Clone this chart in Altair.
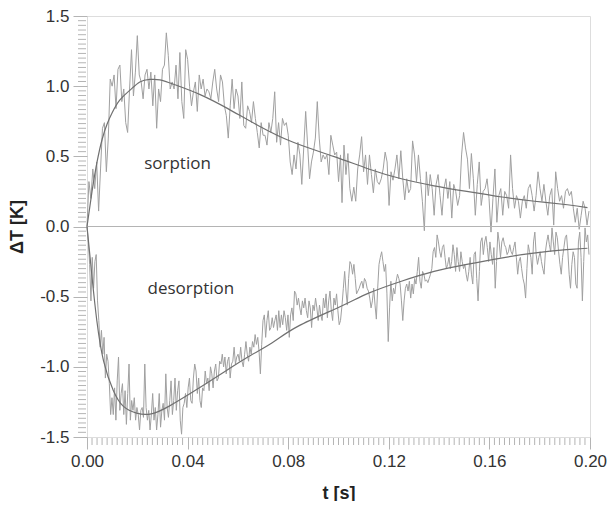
import altair as alt
import numpy as np
import pandas as pd

# ---- data ----
# noisy sorption trace, part 1 (t 0 .. 0.1008 s) and part 2 (t 0.1014 .. 0.1996 s)
sorp_a = [0.00, 0.32, 0.20, 0.41, 0.27, 0.46, 0.11, 0.41, 0.70, 0.74, 0.39, 0.63, 1.05, 1.00, 1.08, 0.84,
          1.12, 1.15, 0.89, 0.98, 0.74, 0.67, 0.98, 1.26, 0.93, 1.10, 1.36, 1.08, 1.03, 0.91, 1.08, 1.12,
          0.98, 1.10, 0.86, 1.08, 0.70, 0.98, 0.89, 1.12, 1.15, 1.38, 1.22, 0.98, 1.03, 0.98, 1.15, 0.91,
          1.24, 0.89, 0.77, 1.26, 1.19, 1.00, 0.86, 0.96, 1.03, 0.82, 1.08, 0.98, 1.05, 0.93, 0.98, 0.96,
          0.91, 1.03, 1.12, 0.98, 0.89, 1.08, 1.03, 0.86, 0.79, 0.63, 0.86, 1.05, 0.84, 0.98, 0.93, 0.77,
          1.03, 0.72, 0.70, 0.86, 0.82, 0.74, 0.89, 0.77, 0.67, 0.56, 0.74, 0.65, 0.65, 0.58, 0.74, 0.67,
          0.77, 0.96, 0.60, 0.74, 0.58, 0.77, 0.72, 0.74, 0.65, 0.46, 0.37, 0.51, 0.41, 0.60, 0.51, 0.30,
          0.56, 0.82, 0.58, 0.34, 0.46, 0.53, 0.63, 0.89, 0.63, 0.46, 0.51, 0.48, 0.51, 0.37, 0.65, 0.58,
          0.51, 0.53, 0.32, 0.51]
sorp_b = [0.17, 0.58, 0.37, 0.52, 0.27, 0.18, 0.28, 0.18, 0.41, 0.51, 0.64, 0.39, 0.51, 0.30, 0.51, 0.37,
          0.24, 0.41, 0.32, 0.30, 0.34, 0.41, 0.53, 0.46, 0.15, 0.39, 0.33, 0.41, 0.51, 0.34, 0.54, 0.34,
          0.19, 0.34, 0.24, 0.27, 0.61, 0.51, 0.32, 0.51, 0.34, 0.18, -0.03, 0.39, 0.22, 0.37, 0.27, 0.08,
          0.30, 0.37, 0.22, 0.08, 0.27, 0.34, 0.20, 0.32, 0.06, 0.30, 0.25, 0.15, 0.22, 0.51, 0.67, 0.56,
          0.48, 0.27, 0.52, 0.34, 0.08, 0.30, 0.46, 0.15, 0.25, 0.27, 0.34, 0.20, -0.04, 0.20, 0.41, 0.03,
          0.22, 0.27, 0.08, 0.25, 0.22, 0.13, 0.51, 0.27, 0.13, 0.22, 0.18, 0.06, 0.18, 0.22, 0.13, 0.27,
          0.30, 0.22, 0.11, 0.22, 0.39, 0.27, 0.18, 0.30, 0.18, 0.08, 0.22, 0.27, 0.01, 0.39, 0.27, 0.18,
          0.22, 0.13, 0.25, 0.27, 0.22, 0.25, 0.13, 0.03, 0.13, -0.02, 0.08, 0.18, 0.13, 0.01, 0.11]

# noisy desorption trace, part 1 (t 0 .. 0.1008 s) and part 2 (t 0.1014 .. 0.1996 s)
desorp_a = [0.00, -0.11, -0.27, -0.53, -0.22, -0.44, -0.25, -0.20, -0.53, -0.67, -0.86, -0.74, -0.91, -0.79,
            -1.08, -0.91, -0.96, -1.12, -1.34, -1.22, -1.34, -1.15, -1.38, -1.10, -0.93, -1.31, -1.19, -1.12,
            -1.34, -1.17, -1.41, -1.19, -0.98, -1.38, -1.24, -1.31, -1.22, -1.38, -1.29, -1.34, -1.45, -1.31,
            -1.29, -1.36, -0.98, -1.29, -1.38, -1.31, -1.45, -1.34, -1.19, -1.38, -1.29, -1.45, -1.34, -1.19,
            -1.43, -1.31, -1.26, -1.38, -1.05, -1.29, -1.36, -1.24, -1.10, -1.34, -1.24, -1.08, -1.31, -1.17,
            -1.10, -1.38, -1.48, -1.29, -1.26, -1.19, -1.29, -1.15, -1.08, -1.24, -1.26, -1.08, -0.98, -1.03,
            -1.19, -1.08, -1.24, -1.29, -1.15, -1.17, -1.03, -1.12, -1.08, -1.17, -1.00, -1.05, -1.15, -1.03,
            -0.98, -1.10, -1.08, -0.96, -0.98, -0.91, -1.00, -0.93, -1.05, -0.96, -0.93, -1.08, -0.98, -0.96,
            -0.86, -0.98, -0.93, -0.91, -0.96, -0.86, -0.96, -1.00, -0.91, -0.82, -0.91, -0.96, -0.86, -0.91,
            -0.82, -0.86, -0.77, -0.84, -0.79, -0.89, -1.05, -0.84, -0.67, -0.63, -0.79, -0.67, -0.60, -0.74,
            -0.72, -0.65, -0.72, -0.67, -0.63, -0.74, -0.60, -0.72, -0.63, -0.70, -0.60, -0.65, -0.74, -0.63,
            -0.79, -0.63, -0.58, -0.67, -0.46, -0.48, -0.56, -0.51, -0.58, -0.63, -0.53, -0.58, -0.51, -0.60,
            -0.65, -0.53, -0.58, -0.72, -0.56, -0.60, -0.51, -0.58, -0.67, -0.56, -0.63, -0.67, -0.51, -0.58,
            -0.48, -0.65, -0.53, -0.46, -0.60, -0.67, -0.51, -0.56, -0.48, -0.60, -0.70, -0.67]
desorp_b = [-0.56, -0.44, -0.32, -0.46, -0.56, -0.37, -0.25, -0.27, -0.34, -0.27, -0.37, -0.48, -0.46, -0.44,
            -0.41, -0.39, -0.44, -0.37, -0.39, -0.44, -0.46, -0.51, -0.58, -0.53, -0.44, -0.56, -0.66, -0.44,
            -0.27, -0.22, -0.18, -0.25, -0.32, -0.27, -0.48, -0.82, -0.58, -0.39, -0.53, -0.44, -0.48, -0.39,
            -0.34, -0.37, -0.41, -0.53, -0.67, -0.53, -0.44, -0.41, -0.46, -0.39, -0.51, -0.41, -0.48, -0.37,
            -0.41, -0.32, -0.22, -0.39, -0.44, -0.32, -0.34, -0.39, -0.38, -0.40, -0.37, -0.34, -0.30, -0.18,
            -0.15, -0.22, -0.06, -0.11, -0.18, -0.22, -0.15, -0.13, -0.22, -0.30, -0.27, -0.22, -0.30, -0.25,
            -0.13, -0.20, -0.32, -0.15, -0.25, -0.32, -0.18, -0.25, -0.30, -0.27, -0.34, -0.39, -0.32, -0.22,
            -0.34, -0.41, -0.20, -0.18, -0.37, -0.53, -0.32, -0.11, -0.08, -0.20, -0.11, -0.07, -0.15, -0.25,
            -0.11, -0.20, -0.27, -0.15, -0.44, -0.25, -0.04, -0.11, -0.22, -0.11, -0.08, -0.13, -0.15, -0.20,
            -0.18, -0.13, -0.18, -0.20, -0.15, -0.11, -0.22, -0.34, -0.25, -0.22, -0.30, -0.37, -0.41, -0.51,
            -0.30, -0.13, -0.18, -0.22, -0.34, -0.11, -0.04, -0.20, -0.27, -0.22, -0.18, -0.25, -0.30, -0.34,
            -0.18, -0.11, -0.06, -0.13, -0.18, -0.01, -0.11, -0.20, -0.04, -0.08, -0.18, -0.27, -0.34, -0.22,
            -0.15, -0.08, -0.06, -0.18, -0.34, -0.44, -0.27, -0.18, -0.22, -0.41, -0.44, -0.11, -0.04, -0.22,
            -0.53, -0.25, -0.01, -0.11, -0.06, -0.20]

# fitted curves
fit_sorp_t = [0.0, 0.002, 0.004, 0.006, 0.008, 0.010, 0.013, 0.017, 0.021, 0.025, 0.029, 0.035, 0.045,
              0.056, 0.068, 0.082, 0.098, 0.112, 0.125, 0.138, 0.151, 0.165, 0.178, 0.191, 0.199]
fit_sorp_v = [0.0, 0.25, 0.46, 0.62, 0.73, 0.81, 0.90, 0.97, 1.03, 1.048, 1.045, 1.01, 0.94,
              0.84, 0.72, 0.60, 0.50, 0.41, 0.34, 0.29, 0.25, 0.21, 0.18, 0.155, 0.135]
fit_desorp_t = [0.0, 0.002, 0.0039, 0.0066, 0.0105, 0.0144, 0.0197, 0.0256, 0.0327, 0.042, 0.0525, 0.063,
                0.0735, 0.084, 0.1008, 0.112, 0.125, 0.138, 0.151, 0.1646, 0.1776, 0.1906, 0.199]
fit_desorp_v = [0.0, -0.36, -0.67, -0.96, -1.17, -1.28, -1.33, -1.335, -1.28, -1.18, -1.06, -0.94,
                -0.83, -0.71, -0.57, -0.475, -0.39, -0.32, -0.27, -0.225, -0.19, -0.165, -0.155]

x_ticks = [0.0, 0.04, 0.08, 0.12, 0.16, 0.20]
y_ticks = [-1.5, -1.0, -0.5, 0.0, 0.5, 1.0, 1.5]

labels = ["sorption", "desorption"]
label_t = [0.036, 0.0413]
label_v = [0.447, -0.447]

# ---- build tables ----
def trace(a, b):
    t = list(np.linspace(0.0, 0.1008, len(a))) + list(np.linspace(0.1014, 0.1996, len(b)))
    return t, a + b

ts, vs = trace(sorp_a, sorp_b)
td, vd = trace(desorp_a, desorp_b)
noisy = pd.DataFrame({
    "t": ts + td,
    "v": vs + vd,
    "s": ["sorption"] * len(ts) + ["desorption"] * len(td),
})
fits = pd.DataFrame({
    "t": fit_sorp_t + fit_desorp_t,
    "v": fit_sorp_v + fit_desorp_v,
    "s": ["sorption"] * len(fit_sorp_t) + ["desorption"] * len(fit_desorp_t),
})
minor_x = pd.DataFrame({"t": [round(i * 0.002, 4) for i in range(101) if i % 20 != 0]})
minor_y = pd.DataFrame({"v": [round(-1.5 + i / 30, 5) for i in range(91) if i % 15 != 0]})
texts = pd.DataFrame({"t": label_t, "v": label_v, "txt": labels})

FONT = "Liberation Sans, Arial, Helvetica, sans-serif"
GRAY = "#b4b4b4"

W, H = 503, 421

xscale = alt.Scale(domain=[0, 0.2], nice=False, zero=False)
yscale = alt.Scale(domain=[-1.5, 1.5], nice=False, zero=False)

xaxis = alt.Axis(values=x_ticks, format=".2f", tickSize=12, tickColor=GRAY, domain=False, grid=False,
                 labelFont=FONT, labelFontSize=17, labelColor="#333333", labelPadding=4,
                 labelFlush=False, labelOverlap=False,
                 title="t [s]", titleFont=FONT, titleFontSize=18, titleFontWeight="bold",
                 titleColor="#222222", titleX=W / 2, titleY=56, titleBaseline="middle")
yaxis = alt.Axis(values=y_ticks, tickSize=14, tickColor=GRAY, domain=False, grid=False,
                 labelExpr="datum.value < 0 ? '-' + format(-datum.value, '.1f') : format(datum.value, '.1f')",
                 labelFont=FONT, labelFontSize=17, labelColor="#333333", labelPadding=4,
                 labelFlush=False, labelOverlap=False,
                 title="ΔT [K]", titleFont=FONT, titleFontSize=18, titleFontWeight="bold",
                 titleColor="#222222", titleX=-70, titleY=H / 2, titleAngle=-90, titleBaseline="middle")

base_noisy = alt.Chart(noisy).mark_line(color="#a0a0a0", strokeWidth=1).encode(
    x=alt.X("t:Q", scale=xscale, axis=xaxis),
    y=alt.Y("v:Q", scale=yscale, axis=yaxis),
    detail="s:N",
    order="t:Q",
)

zero = alt.Chart(pd.DataFrame({"v": [0.0]})).mark_rule(color=GRAY, strokeWidth=1).encode(
    y=alt.Y("v:Q", scale=yscale)
)

fit_lines = alt.Chart(fits).mark_line(color="#707070", strokeWidth=1.2, interpolate="natural").encode(
    x=alt.X("t:Q", scale=xscale),
    y=alt.Y("v:Q", scale=yscale),
    detail="s:N",
    order="t:Q",
)

mx = alt.Chart(minor_x).mark_rule(color=GRAY, strokeWidth=1).encode(
    x=alt.X("t:Q", scale=xscale),
    y=alt.value(H + 1),
    y2=alt.value(H + 8),
)
my = alt.Chart(minor_y).mark_rule(color=GRAY, strokeWidth=1).encode(
    y=alt.Y("v:Q", scale=yscale),
    x=alt.value(-9),
    x2=alt.value(-1),
)

txt = alt.Chart(texts).mark_text(font="Open Sans", fontSize=17, color="#333333").encode(
    x=alt.X("t:Q", scale=xscale),
    y=alt.Y("v:Q", scale=yscale),
    text="txt:N",
)

chart = alt.layer(base_noisy, zero, fit_lines, mx, my, txt).properties(
    width=W,
    height=H,
    autosize=alt.AutoSizeParams(type="none"),
    padding={"left": 79, "top": 8, "right": 17, "bottom": 64},
).configure_view(stroke=GRAY, strokeWidth=1).configure(background="white")

chart.save("out.html", embed_options={"renderer": "svg", "actions": False})
